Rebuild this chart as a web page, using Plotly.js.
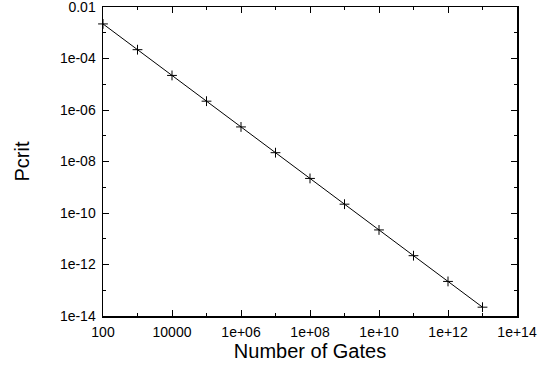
<!DOCTYPE html>
<html>
<head>
<meta charset="utf-8">
<script src="https://cdn.plot.ly/plotly-3.0.1.min.js"></script>
<style>html,body{margin:0;padding:0;background:#fff}#chart{width:553px;height:370px}</style>
</head>
<body>
<div id="chart"></div>
<script>
var gates = [1e2, 1e3, 1e4, 1e5, 1e6, 1e7, 1e8, 1e9, 1e10, 1e11, 1e12, 1e13];
var pcrit = [2.2e-3, 2.2e-4, 2.2e-5, 2.2e-6, 2.2e-7, 2.2e-8, 2.2e-9, 2.2e-10, 2.2e-11, 2.2e-12, 2.2e-13, 2.2e-14];
var xTickVals = [1e2, 1e4, 1e6, 1e8, 1e10, 1e12, 1e14];
var xTickText = ["100", "10000", "1e+06", "1e+08", "1e+10", "1e+12", "1e+14"];
var xMinorVals = [1e3, 1e5, 1e7, 1e9, 1e11, 1e13];
var yTickVals = [1e-2, 1e-4, 1e-6, 1e-8, 1e-10, 1e-12, 1e-14];
var yTickText = ["0.01", "1e-04", "1e-06", "1e-08", "1e-10", "1e-12", "1e-14"];
var yMinorVals = [1e-3, 1e-5, 1e-7, 1e-9, 1e-11, 1e-13];

var font = "Liberation Sans, Arial, Helvetica, sans-serif";
var trace = {
  x: gates, y: pcrit, type: "scatter", mode: "lines+markers",
  line: {color: "#000", width: 1},
  marker: {symbol: "cross-thin", size: 7, line: {color: "#000", width: 1}},
  showlegend: false, cliponaxis: false
};
var axisCommon = {
  type: "log", showgrid: false, zeroline: false,
  showline: true, linecolor: "#000", linewidth: 1.5, mirror: "ticks",
  ticks: "inside", ticklen: 6, tickwidth: 1, tickcolor: "#000",
  tickmode: "array", ticklabelstandoff: 3, ticklabeloverflow: "allow",
  tickfont: {family: font, size: 14, color: "#000"}
};
var layout = {
  width: 553, height: 370,
  margin: {l: 103, r: 36, t: 7, b: 54},
  paper_bgcolor: "#fff", plot_bgcolor: "#fff",
  xaxis: Object.assign({}, axisCommon, {
    range: [1.9999, 14.0001], tickvals: xTickVals, ticktext: xTickText,
    minor: {tickmode: "array", tickvals: xMinorVals, ticks: "inside", ticklen: 3, tickwidth: 1, tickcolor: "#000"},
    title: {text: "Number of Gates", font: {family: font, size: 20, color: "#000"}, standoff: 4}
  }),
  yaxis: Object.assign({}, axisCommon, {
    range: [-14.0001, -1.9999], tickvals: yTickVals, ticktext: yTickText,
    minor: {tickmode: "array", tickvals: yMinorVals, ticks: "inside", ticklen: 3, tickwidth: 1, tickcolor: "#000"},
    title: {text: "Pcrit", font: {family: font, size: 20, color: "#000"}, standoff: 25}
  })
};
Plotly.newPlot("chart", [trace], layout, {displayModeBar: false, staticPlot: true});
</script>
</body>
</html>
